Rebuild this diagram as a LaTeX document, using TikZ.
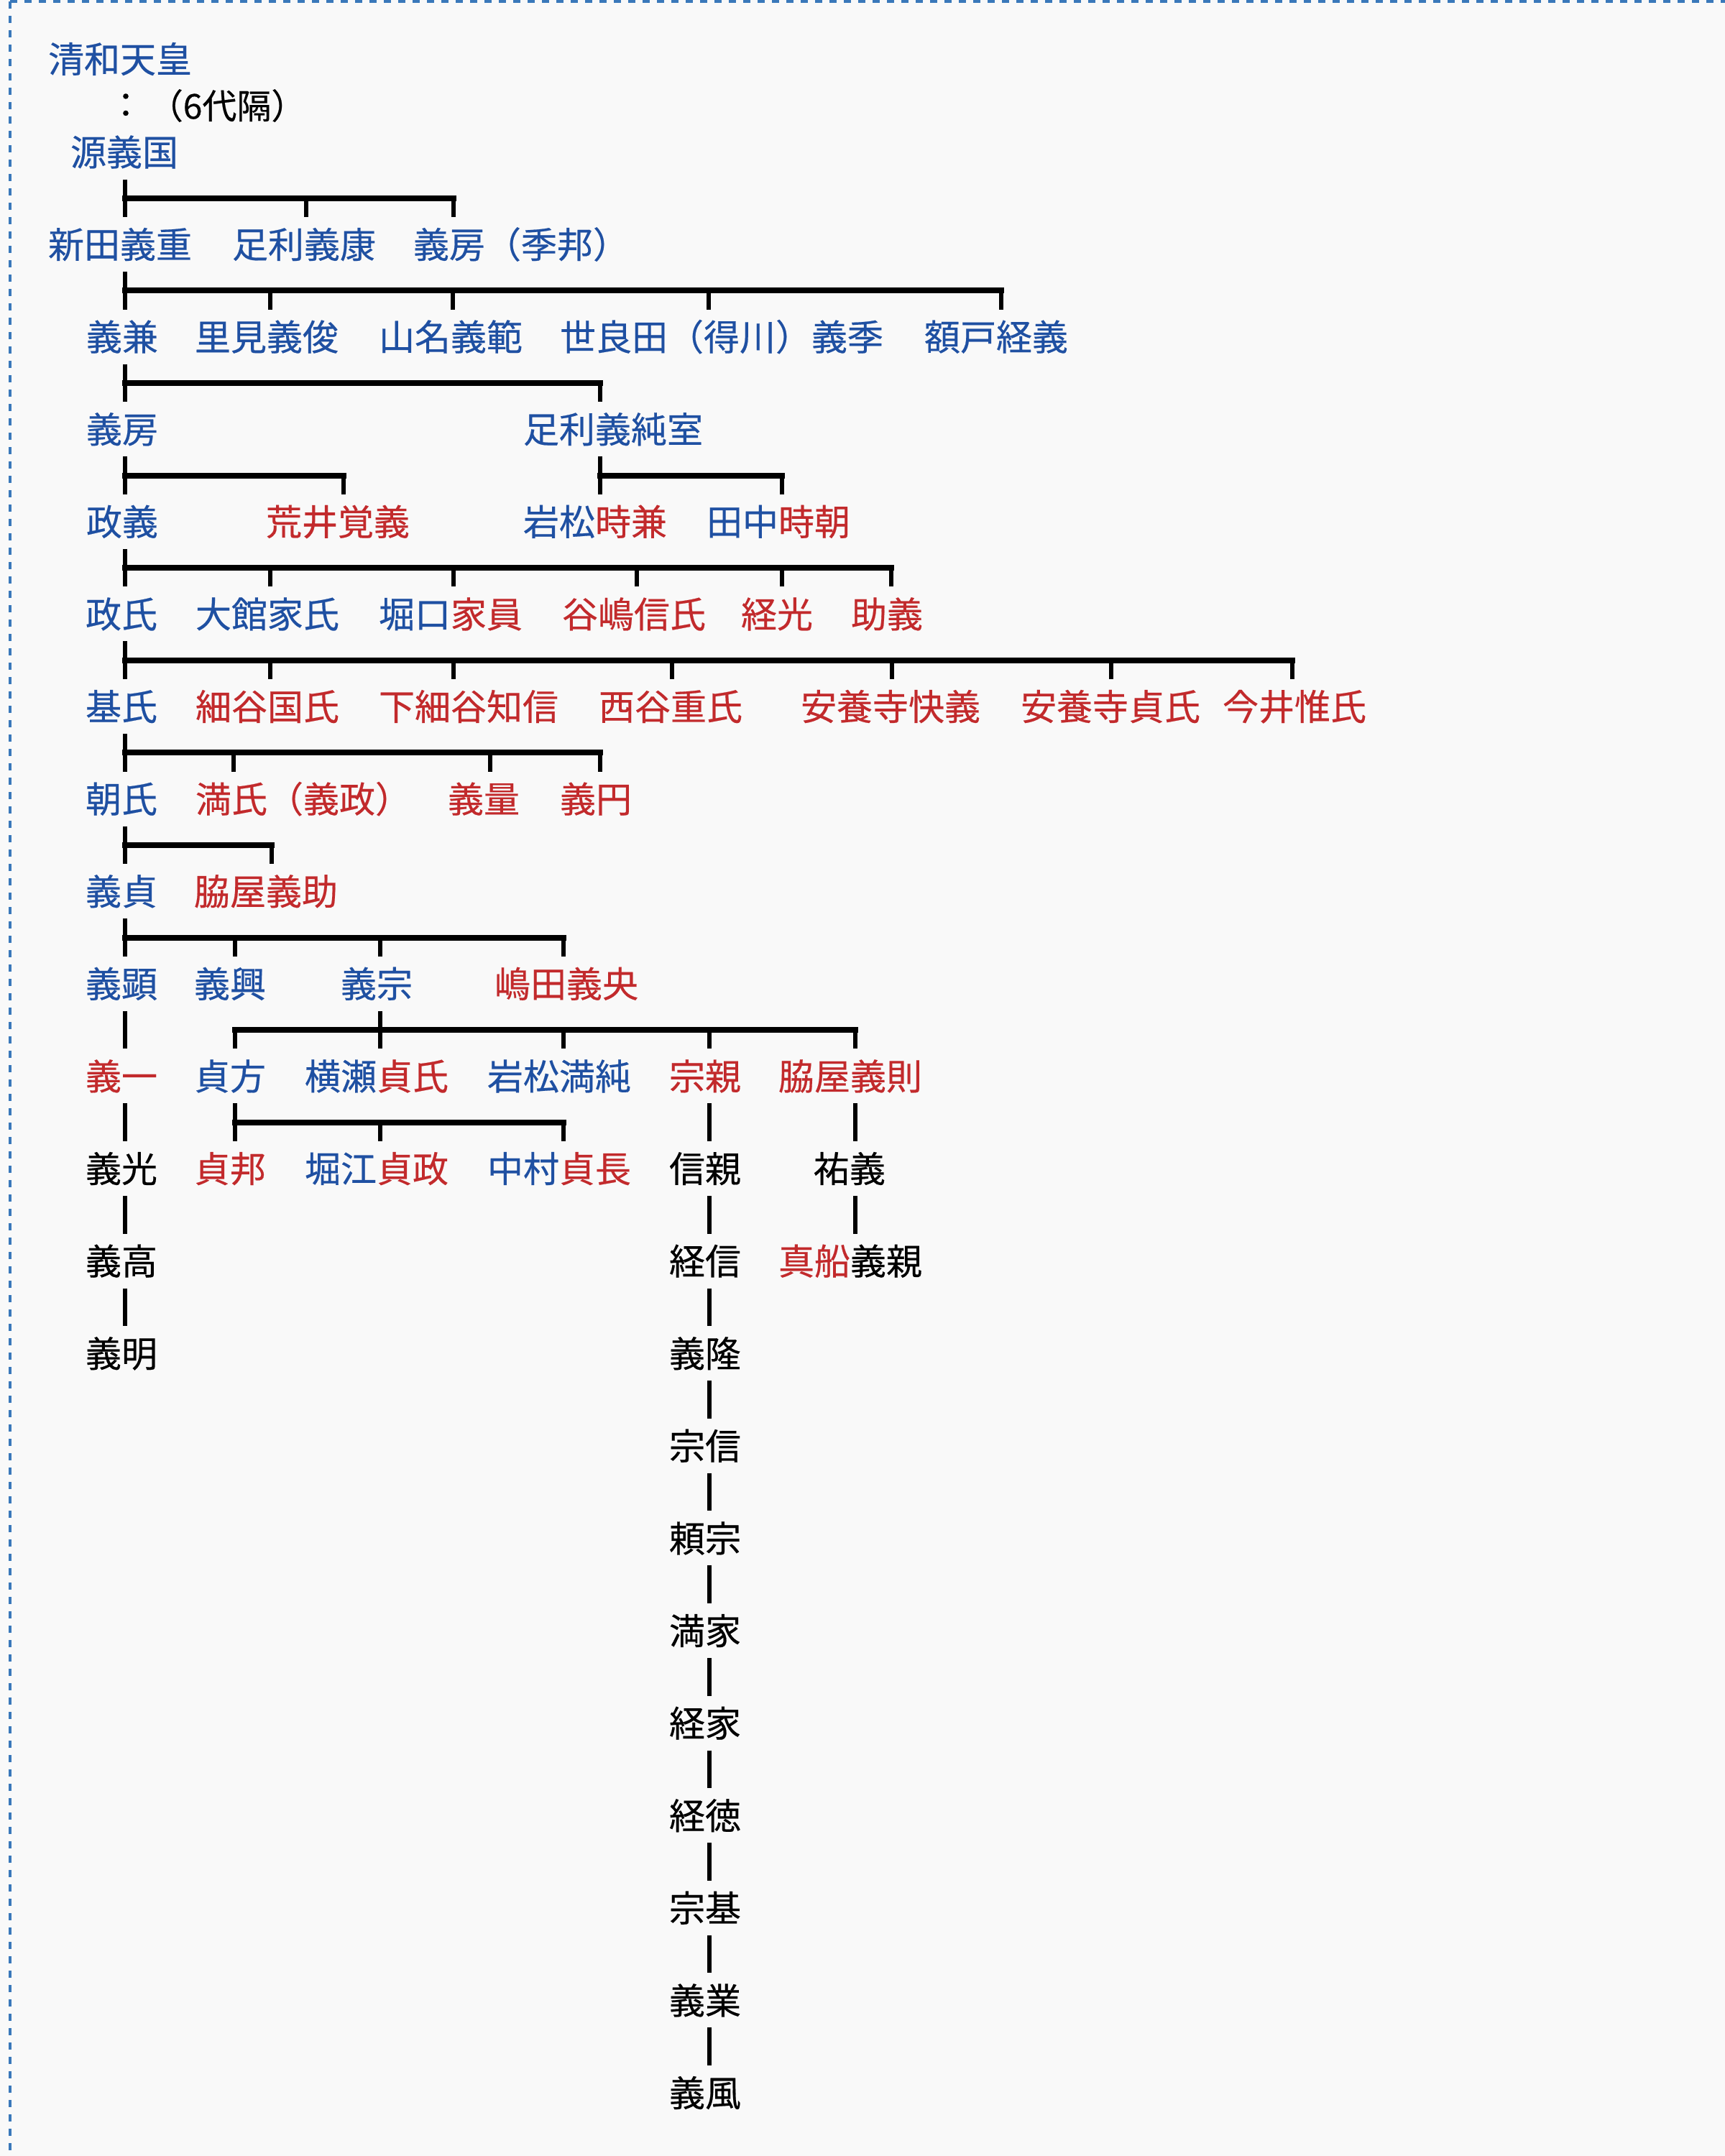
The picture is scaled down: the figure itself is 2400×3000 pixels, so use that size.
\documentclass[tikz,border=0pt]{standalone}
\usepackage{fontspec}
\newfontfamily\jpfont[FakeBold=0.4]{Noto Sans CJK JP}
\definecolor{nmblue}{HTML}{1F50A2}
\definecolor{nmred}{HTML}{C22A2C}
\definecolor{frameblue}{HTML}{3A78BA}
\definecolor{bgpaper}{HTML}{F9F9F9}
\newcommand\bluetxt[1]{\textcolor{nmblue}{#1}}
\newcommand\redtxt[1]{\textcolor{nmred}{#1}}
\tikzset{
  nm/.style={anchor=west, inner sep=0pt, outer xsep=0pt, outer ysep=3.75pt,
    text height=10.5pt, text depth=1pt, font=\jpfont\fontsize{12.5pt}{15pt}\selectfont},
  nb/.style={nm, text=nmblue},
  nr/.style={nm, text=nmred},
  nk/.style={nm, text=black},
  smalltxt/.style={inner sep=0pt, text=black, font=\jpfont\fontsize{12pt}{14pt}\selectfont},
  lnk/.style={draw=black, line width=1.3pt},
  barl/.style={draw=black, line width=2pt, line cap=rect},
  framel/.style={draw=frameblue, line width=1pt, dash pattern=on 2.5pt off 2.5pt},
}
% #1 parent, #2 stem x, #3 bar y, #4 bar left x, #5 bar right x, #6 children name/x
\newcommand\famly[6]{%
  \draw[lnk] (#2,0 |- #1.south) -- (#2,#3);
  \draw[barl] (#4,#3) -- (#5,#3);
  \foreach \cn/\cx in {#6} {\draw[lnk] (\cx,#3) -- (\cx,0 |- \cn.north);}
}
\newcommand\single[3]{\draw[lnk] (#1,0 |- #2.south) -- (#1,0 |- #3.north);}
\begin{document}
\begin{tikzpicture}[x=0.25pt, y=-0.25pt]
\useasboundingbox (0,0) rectangle (2400,3000);
\fill[bgpaper] (0,0) rectangle (2400,3000);
\draw[framel] (14,2) -- (2400,2);
\draw[framel] (14,2) -- (14,3000);

% top
\node[nb] (seiwa) at (67,82) {清和天皇};
\node[smalltxt, anchor=center] (colon) at (175,147) {：};
\node[smalltxt, anchor=west] (gap6) at (206,147) {（6代隔）};
\node[nb] (yoshikuni) at (98,211.5) {源義国};

% row 1
\node[nb] (nitta) at (67,340) {新田義重};
\node[nb] (ashiyasu) at (323,340) {足利義康};
\node[nb] (yoshifusaA) at (575,340) {義房（季邦）};
\famly{yoshikuni}{174}{276}{174}{631}{nitta/174, ashiyasu/426, yoshifusaA/631}

% row 2
\node[nb] (yoshikane) at (120,468.6) {義兼};
\node[nb] (satomi) at (271,468.6) {里見義俊};
\node[nb] (yamana) at (527,468.6) {山名義範};
\node[nb] (serada) at (779,468.6) {世良田（得川）義季};
\node[nb] (nukada) at (1286,468.6) {額戸経義};
\famly{nitta}{174}{404.3}{174}{1393}{yoshikane/174, satomi/376, yamana/630, serada/986, nukada/1393}

% row 3
\node[nb] (yoshifusaB) at (120,597.2) {義房};
\node[nb] (ashijun) at (728,597.2) {足利義純室};
\famly{yoshikane}{174}{532.9}{174}{835}{yoshifusaB/174, ashijun/835}

% row 4
\node[nb] (masayoshi) at (120,725.8) {政義};
\node[nr] (arai) at (370,725.8) {荒井覚義};
\node[nk] (iwatoki) at (728,725.8) {\bluetxt{岩松}\redtxt{時兼}};
\node[nk] (tanaka) at (983,725.8) {\bluetxt{田中}\redtxt{時朝}};
\famly{yoshifusaB}{174}{661.5}{174}{478}{masayoshi/174, arai/478}
\famly{ashijun}{835}{661.5}{835}{1088}{iwatoki/835, tanaka/1088}

% row 5
\node[nb] (masauji) at (119,854.4) {政氏};
\node[nb] (odachi) at (272,854.4) {大館家氏};
\node[nk] (horiguchi) at (527,854.4) {\bluetxt{堀口}\redtxt{家員}};
\node[nr] (yajima) at (782,854.4) {谷嶋信氏};
\node[nr] (tsunemitsu) at (1031,854.4) {経光};
\node[nr] (sukeyoshi) at (1184,854.4) {助義};
\famly{masayoshi}{174}{790.1}{174}{1240}{masauji/174, odachi/376, horiguchi/631, yajima/886, tsunemitsu/1088, sukeyoshi/1240}

% row 6
\node[nb] (motouji) at (119,983) {基氏};
\node[nr] (hosoya) at (272,983) {細谷国氏};
\node[nr] (shimohosoya) at (527,983) {下細谷知信};
\node[nr] (nishiya) at (833,983) {西谷重氏};
\node[nr] (anyojiA) at (1114,983) {安養寺快義};
\node[nr] (anyojiB) at (1420,983) {安養寺貞氏};
\node[nr] (imai) at (1701,983) {今井惟氏};
\famly{masauji}{174}{918.7}{174}{1798}{motouji/174, hosoya/376, shimohosoya/631, nishiya/935, anyojiA/1241, anyojiB/1546, imai/1798}

% row 7
\node[nb] (tomouji) at (119,1111.6) {朝氏};
\node[nr] (mitsuuji) at (272,1111.6) {満氏（義政）};
\node[nr] (yoshikazu) at (623,1111.6) {義量};
\node[nr] (yoshien) at (779,1111.6) {義円};
\famly{motouji}{174}{1047.3}{174}{835}{tomouji/174, mitsuuji/325, yoshikazu/682, yoshien/835}

% row 8
\node[nb] (yoshisada) at (119,1240.2) {義貞};
\node[nr] (wakiyasuke) at (270,1240.2) {脇屋義助};
\famly{tomouji}{174}{1175.9}{174}{378}{yoshisada/174, wakiyasuke/378}

% row 9
\node[nb] (yoshiaki) at (119,1368.8) {義顕};
\node[nb] (yoshioki) at (270,1368.8) {義興};
\node[nb] (yoshimune) at (474,1368.8) {義宗};
\node[nr] (shimada) at (688,1368.8) {嶋田義央};
\famly{yoshisada}{174}{1304.5}{174}{784}{yoshiaki/174, yoshioki/327, yoshimune/529, shimada/784}

% row 10
\node[nr] (yoshikazuB) at (119,1497.4) {義一};
\node[nb] (sadakata) at (270,1497.4) {貞方};
\node[nk] (yokose) at (424,1497.4) {\bluetxt{横瀬}\redtxt{貞氏}};
\node[nb] (iwamitsu) at (678,1497.4) {岩松満純};
\node[nr] (munechika) at (931,1497.4) {宗親};
\node[nr] (wakiyanori) at (1083,1497.4) {脇屋義則};
\single{174}{yoshiaki}{yoshikazuB}
\famly{yoshimune}{529}{1433.1}{327}{1190}{sadakata/327, yokose/529, iwamitsu/784, munechika/987, wakiyanori/1190}

% row 11
\node[nk] (yoshimitsu) at (119,1626) {義光};
\node[nr] (sadakuni) at (270,1626) {貞邦};
\node[nk] (horie) at (424,1626) {\bluetxt{堀江}\redtxt{貞政}};
\node[nk] (nakamura) at (678,1626) {\bluetxt{中村}\redtxt{貞長}};
\node[nk] (nobuchika) at (931,1626) {信親};
\node[nk] (sukeyoshiB) at (1132,1626) {祐義};
\single{174}{yoshikazuB}{yoshimitsu}
\single{987}{munechika}{nobuchika}
\single{1190}{wakiyanori}{sukeyoshiB}
\famly{sadakata}{327}{1561.7}{327}{784}{sadakuni/327, horie/529, nakamura/784}

% row 12
\node[nk] (yoshitaka) at (119,1754.6) {義高};
\node[nk] (tsunenobu) at (931,1754.6) {経信};
\node[nk] (mafune) at (1083,1754.6) {\redtxt{真船}義親};
\single{174}{yoshimitsu}{yoshitaka}
\single{987}{nobuchika}{tsunenobu}
\single{1190}{sukeyoshiB}{mafune}

% row 13
\node[nk] (yoshiakira) at (119,1883.2) {義明};
\node[nk] (yoshitakaB) at (931,1883.2) {義隆};
\single{174}{yoshitaka}{yoshiakira}
\single{987}{tsunenobu}{yoshitakaB}

% long chain
\node[nk] (munenobu) at (931,2011.8) {宗信};
\node[nk] (yorimune) at (931,2140.4) {頼宗};
\node[nk] (mitsuie) at (931,2269) {満家};
\node[nk] (tsuneie) at (931,2397.6) {経家};
\node[nk] (tsunenori) at (931,2526.2) {経徳};
\node[nk] (munemoto) at (931,2654.8) {宗基};
\node[nk] (yoshinari) at (931,2783.4) {義業};
\node[nk] (yoshikaze) at (931,2912) {義風};
\foreach \pa/\ch in {yoshitakaB/munenobu, munenobu/yorimune, yorimune/mitsuie, mitsuie/tsuneie, tsuneie/tsunenori, tsunenori/munemoto, munemoto/yoshinari, yoshinari/yoshikaze}
  {\single{987}{\pa}{\ch}}
\end{tikzpicture}
\end{document}
